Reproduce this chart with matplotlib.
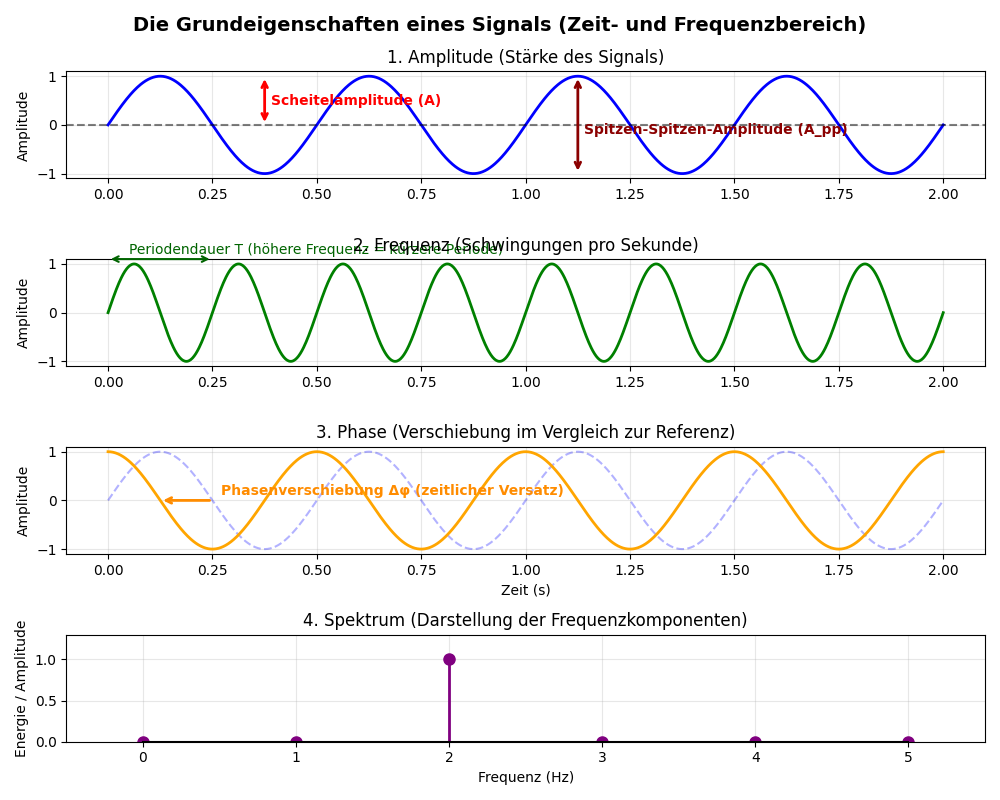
import numpy as np
import matplotlib
matplotlib.use('Agg')
import matplotlib.pyplot as plt

# signal parameters
amplitude = 1.0
freq_base = 2.0      # Hz (plots 1 and 3)
freq_high = 4.0      # Hz (plot 2)
phase_shift = np.pi / 2   # cosine vs. sine reference
t_start, t_end, n_samples = 0.0, 2.0, 1000

# spectrum
spec_freqs = [0, 1, 2, 3, 4, 5]
spec_values = [0, 0, 1, 0, 0, 0]

t = np.linspace(t_start, t_end, n_samples)
sig1 = amplitude * np.sin(2 * np.pi * freq_base * t)
sig2 = amplitude * np.sin(2 * np.pi * freq_high * t)
sig3 = amplitude * np.sin(2 * np.pi * freq_base * t + phase_shift)

fig, axes = plt.subplots(4, 1, figsize=(10, 8))
fig.suptitle('Die Grundeigenschaften eines Signals (Zeit- und Frequenzbereich)',
             fontsize=14, fontweight='bold')

# 1. Amplitude
ax = axes[0]
ax.plot(t, sig1, color='blue', lw=2)
ax.axhline(0, color='black', ls='--', alpha=0.5)
ax.annotate('', xy=(0.375, amplitude), xytext=(0.375, 0),
            arrowprops=dict(arrowstyle='<->', color='red', lw=2))
ax.text(0.39, 0.5, 'Scheitelamplitude (A)', color='red', fontweight='bold', va='center')
ax.annotate('', xy=(1.125, amplitude), xytext=(1.125, -amplitude),
            arrowprops=dict(arrowstyle='<->', color='darkred', lw=2))
ax.text(1.14, -0.1, 'Spitzen-Spitzen-Amplitude (A_pp)', color='darkred',
        fontweight='bold', va='center')
ax.set_title('1. Amplitude (Stärke des Signals)')
ax.set_ylabel('Amplitude')
ax.grid(True, alpha=0.3)

# 2. Frequenz
ax = axes[1]
ax.plot(t, sig2, color='green', lw=2)
ax.annotate('', xy=(0, 1.1), xytext=(1 / freq_high, 1.1),
            arrowprops=dict(arrowstyle='<->', color='darkgreen', lw=1.5))
ax.text(0.05, 1.2, 'Periodendauer T (höhere Frequenz = kürzere Periode)',
        color='darkgreen', fontsize=10)
ax.set_title('2. Frequenz (Schwingungen pro Sekunde)')
ax.set_ylabel('Amplitude')
ax.grid(True, alpha=0.3)

# 3. Phase
ax = axes[2]
ax.plot(t, sig1, color='blue', ls='--', alpha=0.3, lw=1.5)
ax.plot(t, sig3, color='orange', lw=2)
ax.annotate('', xy=(0.125, 0), xytext=(0.25, 0),
            arrowprops=dict(arrowstyle='->', color='darkorange', lw=2))
ax.text(0.27, 0.2, 'Phasenverschiebung Δφ (zeitlicher Versatz)', color='darkorange',
        fontweight='bold', va='center')
ax.set_title('3. Phase (Verschiebung im Vergleich zur Referenz)')
ax.set_ylabel('Amplitude')
ax.set_xlabel('Zeit (s)')
ax.grid(True, alpha=0.3)

# 4. Spektrum
ax = axes[3]
markerline, stemlines, baseline = ax.stem(spec_freqs, spec_values, linefmt='purple',
                                          markerfmt='o', basefmt='k-')
markerline.set_color('purple')
markerline.set_markersize(8)
stemlines.set_linewidth(2)
ax.set_xlim(-0.5, 5.5)
ax.set_ylim(0, 1.3)
ax.set_title('4. Spektrum (Darstellung der Frequenzkomponenten)')
ax.set_xlabel('Frequenz (Hz)')
ax.set_ylabel('Energie / Amplitude')
ax.grid(True, alpha=0.3)

plt.tight_layout()
plt.savefig('out.png', dpi=100)
